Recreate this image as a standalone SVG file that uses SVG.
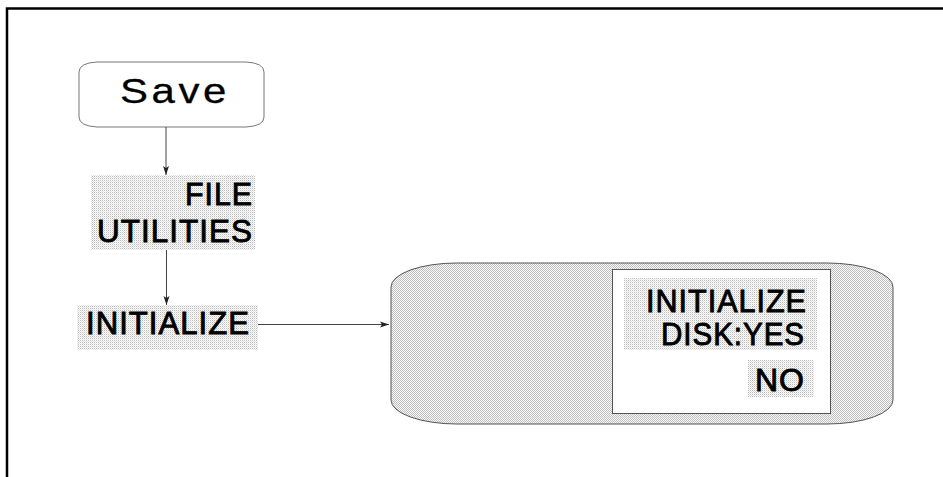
<svg xmlns="http://www.w3.org/2000/svg" width="943" height="477" viewBox="0 0 943 477">
<defs>
<pattern id="dots" width="2" height="2" patternUnits="userSpaceOnUse">
<rect width="2" height="2" fill="#ffffff"/>
<rect width="1" height="1" fill="#bcbcbc"/>
<rect x="1" y="1" width="1" height="1" fill="#e2e2e2"/>
</pattern>
<pattern id="checker" width="2" height="2" patternUnits="userSpaceOnUse">
<rect width="2" height="2" fill="#f8f8f8"/>
<rect width="1" height="1" fill="#c0c0c0"/>
<rect x="1" y="1" width="1" height="1" fill="#c0c0c0"/>
</pattern>
<marker id="arr" markerWidth="10" markerHeight="8" refX="9" refY="4" orient="auto" markerUnits="userSpaceOnUse">
<path d="M0,1 L9,4 L0,7 L2,4 Z" fill="#222"/>
</marker>
<style>
.lbl{font-family:"Liberation Sans",Arial,Helvetica,sans-serif;font-size:31px;fill:#000;stroke:#000;stroke-width:0.9;letter-spacing:1px}
.hl{fill:url(#dots)}
.conn{stroke:#444;stroke-width:1;fill:none}
</style>
</defs>
<rect width="943" height="477" fill="#ffffff"/>
<path d="M7,477 L7,8.5 L943,8.5" fill="none" stroke="#000" stroke-width="2.5"/>

<g id="save">
<path d="M97,62 L246,62 Q264,63 264,72 L264,117 Q264,126 246,127 L97,127 Q79,126 79,117 L79,72 Q79,63 97,62 Z" fill="#fff" stroke="#777" stroke-width="1"/>
<text x="120" y="103" textLength="110" lengthAdjust="spacingAndGlyphs" style="font-family:'Liberation Sans',Arial,sans-serif;font-size:35px;letter-spacing:3px;fill:#000;stroke:#000;stroke-width:0.3">Save</text>
</g>

<g id="file-utilities">
<rect class="hl" x="91" y="175" width="164" height="75"/>
<text class="lbl" x="253" y="205" text-anchor="end" textLength="68" lengthAdjust="spacingAndGlyphs">FILE</text>
<text class="lbl" x="253" y="242" text-anchor="end" textLength="156" lengthAdjust="spacingAndGlyphs">UTILITIES</text>
</g>

<g id="initialize">
<rect class="hl" x="77" y="305" width="181" height="45"/>
<text class="lbl" x="86" y="334" textLength="164" lengthAdjust="spacingAndGlyphs">INITIALIZE</text>
</g>

<g id="dialog">
<path d="M457,263 L827,263 A66,24 0 0 1 893,287 L893,400 A66,24 0 0 1 827,424 L457,424 A66,24 0 0 1 391,400 L391,287 A66,24 0 0 1 457,263 Z" fill="url(#checker)" stroke="#555" stroke-width="1"/>
<rect x="612.5" y="269.5" width="218" height="144" fill="#fff" stroke="#555" stroke-width="1"/>
<rect class="hl" x="624" y="278" width="193" height="72"/>
<rect class="hl" x="748" y="360" width="66" height="37"/>
<text class="lbl" x="807" y="312" text-anchor="end" textLength="161" lengthAdjust="spacingAndGlyphs">INITIALIZE</text>
<text class="lbl" x="805" y="345" text-anchor="end" textLength="144" lengthAdjust="spacingAndGlyphs">DISK:YES</text>
<text class="lbl" x="805" y="391" text-anchor="end" textLength="50" lengthAdjust="spacingAndGlyphs">NO</text>
</g>

<g id="connectors">
<line class="conn" x1="166" y1="127" x2="166" y2="175" marker-end="url(#arr)"/>
<line class="conn" x1="166.5" y1="250" x2="166.5" y2="305" marker-end="url(#arr)"/>
<line class="conn" x1="258" y1="324.5" x2="389" y2="324.5" marker-end="url(#arr)"/>
</g>
</svg>
